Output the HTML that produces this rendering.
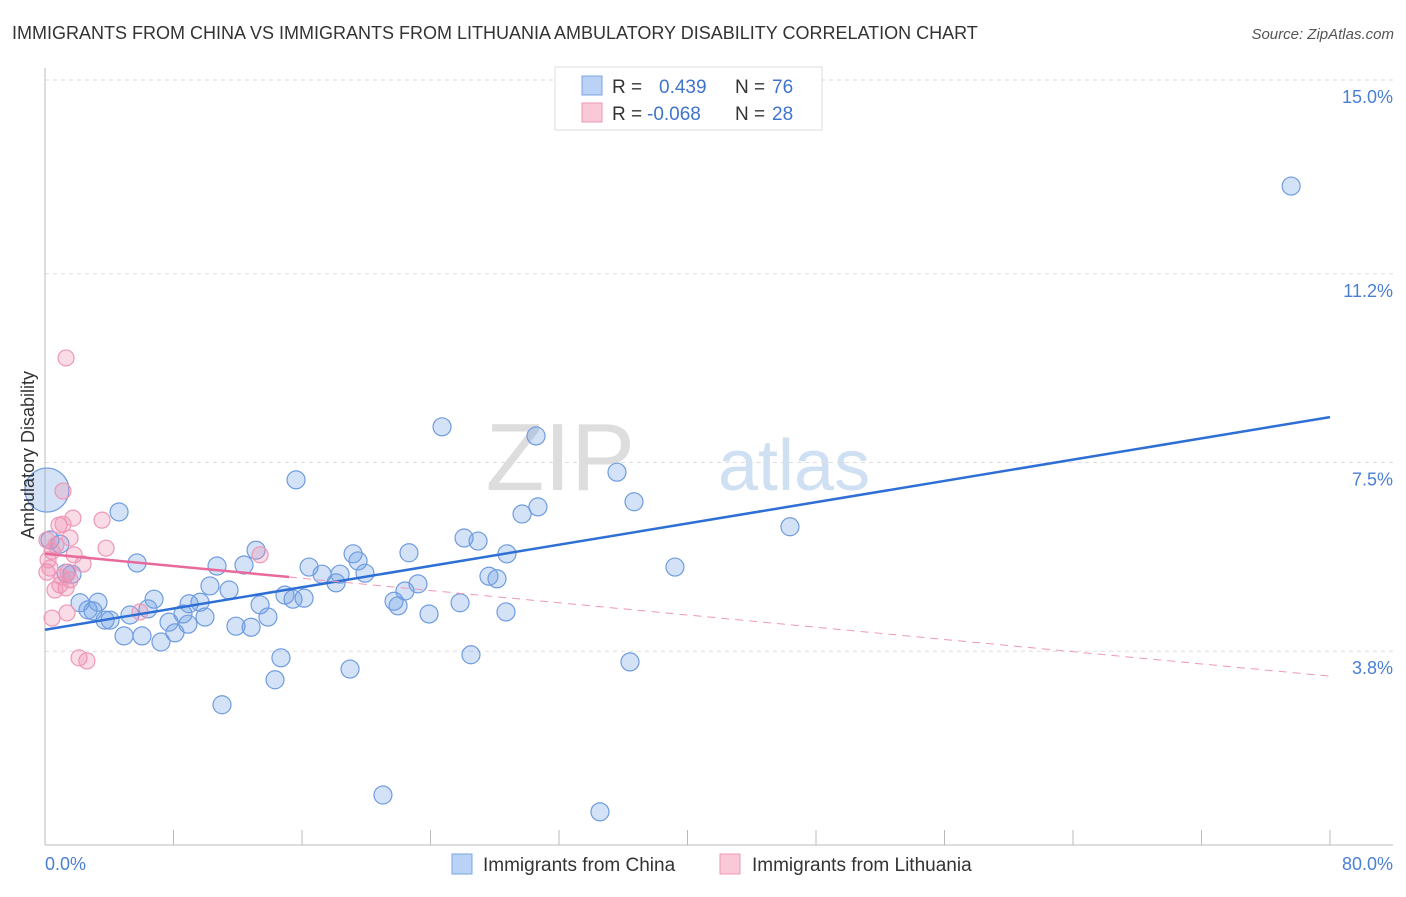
<!DOCTYPE html>
<html><head><meta charset="utf-8"><style>
body{margin:0;background:#fff;font-family:"Liberation Sans",sans-serif}
svg text{font-family:"Liberation Sans",sans-serif}
</style></head><body>
<svg id="c" width="1406" height="892" xmlns="http://www.w3.org/2000/svg">
<text x="12" y="39" font-size="18" fill="#333">IMMIGRANTS FROM CHINA VS IMMIGRANTS FROM LITHUANIA AMBULATORY DISABILITY CORRELATION CHART</text>
<text x="1394" y="39" font-size="15" fill="#555" font-style="italic" text-anchor="end">Source: ZipAtlas.com</text>
<text x="635" y="490" font-size="96" fill="#ddd" font-family="Liberation Serif" text-anchor="end">ZIP</text>
<text x="718" y="490" font-size="72" fill="#cfe0f3">atlas</text>
<g id="grid"></g>
<g id="axes"></g>
<g id="pts"></g>
<g id="lines"></g>
<text transform="translate(34,455) rotate(-90)" font-size="18" fill="#333" text-anchor="middle">Ambulatory Disability</text>
<text x="45" y="870" font-size="18" fill="#4a7fd4">0.0%</text>
<text x="1393" y="870" font-size="18" fill="#4a7fd4" text-anchor="end">80.0%</text>
<g>
<rect x="555" y="67" width="267" height="63" fill="#fff" stroke="#ddd"/>
<rect x="582" y="76" width="20" height="19" fill="#b9d2f5" stroke="#7aa6e4"/>
<text x="612" y="93" font-size="19" fill="#333">R =</text>
<text x="659" y="93" font-size="19" fill="#3f74cc">0.439</text>
<text x="735" y="93" font-size="19" fill="#333">N =</text>
<text x="772" y="93" font-size="19" fill="#3f74cc">76</text>
<rect x="582" y="103" width="20" height="19" fill="#f9c9d8" stroke="#ef97b6"/>
<text x="612" y="120" font-size="19" fill="#333">R =</text>
<text x="647" y="120" font-size="19" fill="#3f74cc">-0.068</text>
<text x="735" y="120" font-size="19" fill="#333">N =</text>
<text x="772" y="120" font-size="19" fill="#3f74cc">28</text>
</g>
<g>
<rect x="452" y="854" width="20" height="20" fill="#b9d2f5" stroke="#7aa6e4"/>
<text x="483" y="871" font-size="19" fill="#333">Immigrants from China</text>
<rect x="720" y="854" width="20" height="20" fill="#f9c9d8" stroke="#ef97b6"/>
<text x="752" y="871" font-size="19" fill="#333">Immigrants from Lithuania</text>
</g>
</svg>
<script>
const yTicks=[3.8,7.5,11.2,15.0];
const yTickLabels=["3.8%","7.5%","11.2%","15.0%"];
const chinaX=[0.12,4.61,5.73,15.63,24.72,30.57,35.61,36.67,30.69,29.70,46.38,77.58,26.09,26.96,22.66,28.76,19.18,19.49,13.14,12.39,10.71,39.22,16.44,17.25,18.37,19.92,27.64,28.14,1.68,23.22,22.41,18.12,10.27,11.46,6.79,2.18,3.30,2.68,2.99,14.94,15.44,16.13,9.65,8.97,13.39,21.73,21.98,25.84,6.41,5.29,8.59,9.96,13.88,4.05,3.74,7.72,8.90,23.91,28.70,11.89,12.83,4.92,6.04,8.09,7.22,14.69,26.52,36.42,18.99,14.32,11.02,21.04,34.55,1.31,0.93,0.31];
const chinaY=[6.96,6.53,5.53,7.16,8.20,8.02,7.31,6.73,6.63,6.49,6.24,12.92,6.02,5.96,5.73,5.71,5.71,5.57,5.78,5.49,5.47,5.45,5.45,5.31,5.31,5.33,5.27,5.22,5.31,5.12,4.98,5.14,5.08,5.00,4.82,4.75,4.76,4.61,4.59,4.90,4.82,4.84,4.76,4.73,4.71,4.78,4.69,4.75,4.63,4.51,4.53,4.47,4.47,4.41,4.41,4.37,4.33,4.53,4.57,4.29,4.27,4.10,4.10,4.16,3.98,3.67,3.73,3.59,3.45,3.24,2.75,0.98,0.65,5.33,5.90,5.98];
const lithX=[1.31,1.12,0.87,1.74,3.55,1.12,0.12,1.56,3.80,0.44,1.81,2.37,13.39,0.12,1.56,0.93,1.31,0.62,1.43,5.91,0.44,1.37,2.12,2.61,0.31,1.06,0.68,0.19];
const lithY=[9.55,6.94,6.27,6.41,6.37,6.29,5.98,6.02,5.82,5.76,5.69,5.51,5.69,5.35,5.20,5.10,5.04,5.00,5.35,4.57,4.45,4.55,3.67,3.61,5.43,5.25,5.88,5.59];
const chinaTrend=[4.22,8.39];
const lithTrend=[5.71,3.31];
const lithSolidEnd=15.2;
const X=v=>45+v/80*1285, Y=v=>845-v*51;
const NS="http://www.w3.org/2000/svg";
function mk(t,a,p){const e=document.createElementNS(NS,t);for(const k in a)e.setAttribute(k,a[k]);p.appendChild(e);return e;}
const grid=document.getElementById('grid'),axes=document.getElementById('axes'),pts=document.getElementById('pts'),lines=document.getElementById('lines');
yTicks.forEach((t,i)=>{
 const l=mk('line',{x1:45,x2:1393,y1:Y(t),y2:Y(t),stroke:'#ddd','stroke-dasharray':'4,4'},grid);
 
 
 const tx=mk('text',{x:1393,y:Y(t)+23,'font-size':18,fill:'#4a7fd4','text-anchor':'end'},grid);
 tx.textContent=yTickLabels[i];
 
 
});
let a=mk('line',{x1:45,x2:45,y1:68,y2:845,stroke:'#bbb'},axes);


a=mk('line',{x1:45,x2:1393,y1:845,y2:845,stroke:'#bbb'},axes);


for(let i=0;i<=10;i++){const t=mk('line',{x1:X(i*8),x2:X(i*8),y1:830,y2:845,stroke:'#bbb'},axes);
 
 }
chinaX.forEach((x,i)=>{const c=mk('circle',{cx:X(x),cy:Y(chinaY[i]),r:i==0?22:9,fill:'rgba(110,160,230,0.3)',stroke:'#6f9ce0','stroke-width':1.2},pts);
 
 });
lithX.forEach((x,i)=>{const c=mk('circle',{cx:X(x),cy:Y(lithY[i]),r:8,fill:'rgba(240,140,175,0.3)',stroke:'#ef97b6','stroke-width':1.2},pts);
 
 });
let t=mk('line',{x1:X(0),y1:Y(chinaTrend[0]),x2:X(80),y2:Y(chinaTrend[1]),stroke:'#2e6fd6','stroke-width':2.5},lines);


const ly=v=>lithTrend[0]+(lithTrend[1]-lithTrend[0])*v/80;
t=mk('line',{x1:X(0),y1:Y(lithTrend[0]),x2:X(lithSolidEnd),y2:Y(ly(lithSolidEnd)),stroke:'#e8699a','stroke-width':2.5},lines);


t=mk('line',{x1:X(lithSolidEnd),y1:Y(ly(lithSolidEnd)),x2:X(80),y2:Y(lithTrend[1]),stroke:'#ef97b6','stroke-width':1,'stroke-dasharray':'8,6'},lines);


</script>
</body></html>
